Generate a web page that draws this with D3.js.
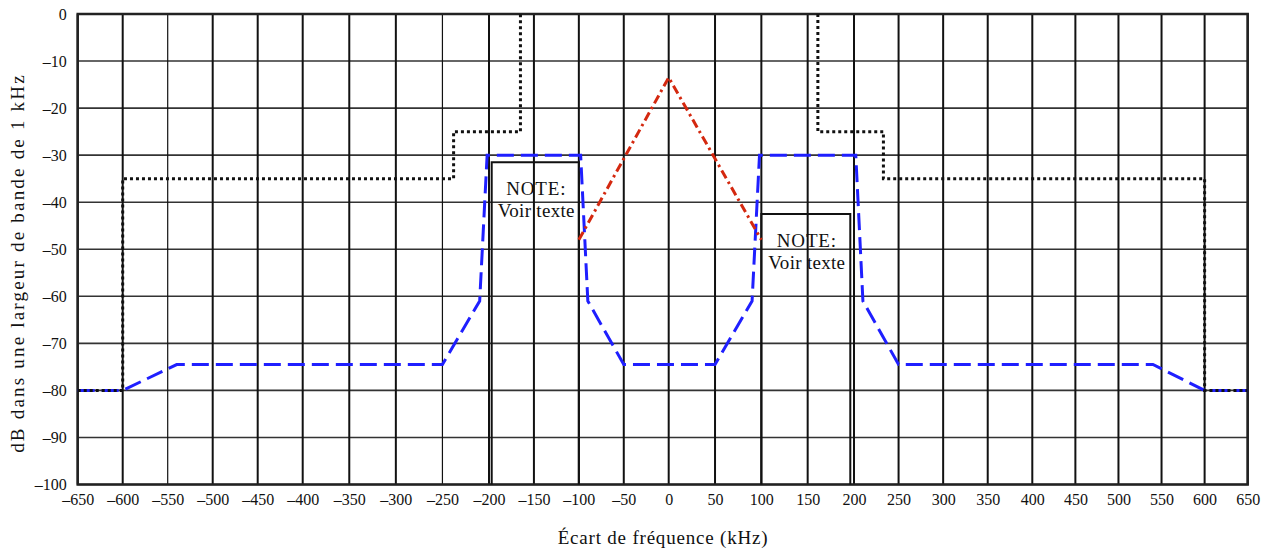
<!DOCTYPE html>
<html>
<head>
<meta charset="utf-8">
<script src="https://cdn.jsdelivr.net/npm/d3@7"></script>
<style>
  html, body { margin: 0; padding: 0; background: #fff; }
  text { font-family: "Liberation Serif", "Times New Roman", serif; fill: #111; }
</style>
</head>
<body>
<svg id="chart" width="1272" height="549"></svg>
<script>
// ---- Data ----
const xTicks = [-650,-600,-550,-500,-450,-400,-350,-300,-250,-200,-150,-100,-50,0,50,100,150,200,250,300,350,400,450,500,550,600,650];
const yTicks = [0,-10,-20,-30,-40,-50,-60,-70,-80,-90,-100];

// Blue dashed mask
const blueFreq = [-650,-600,-540,-250,-210,-202,-98,-90,-50,50,90,98,202,210,250,540,600,650];
const blueDb   = [-80,-80,-74.5,-74.5,-61,-30,-30,-61,-74.5,-74.5,-61,-30,-30,-61,-74.5,-74.5,-80,-80];

// Black dotted mask (left and right parts)
const maskLeftFreq  = [-650,-600,-600,-238,-238,-165,-165];
const maskLeftDb    = [-80,-80,-35,-35,-25,-25,0];
const maskRightFreq = [161,161,233,233,600,600,650];
const maskRightDb   = [0,-25,-25,-35,-35,-80,-80];

// Red dash-dot line
const redFreq = [-100, 0, 100];
const redDb   = [-48, -13.5, -48];

// NOTE boxes
const boxLeftFreq  = [-197, 100];
const boxRightFreq = [-100, 196];
const boxTopDb     = [-31.5, -42.5];
const noteLine1 = "NOTE:";
const noteLine2 = "Voir texte";

const xTitle = "Écart de fréquence (kHz)";
const yTitle = "dB dans une largeur de bande de 1 kHz";

// ---- Layout ----
const W = 1272, H = 549;
const svg = d3.select("#chart");
// piecewise-linear frequency axis, as in the reference drawing
const x = d3.scaleLinear()
  .domain([-650, -400, -200, 0, 200, 400, 650])
  .range([77.7, 302.7, 489, 668.7, 854, 1032.3, 1247.7]);
const y = d3.scaleLinear().domain([-100, 0]).range([484.5, 14]);
const fmt = d => d < 0 ? "–" + Math.abs(d) : String(d);
const thinX = new Set([-550, -250]);

// Grid
const g = svg.append("g");
g.selectAll("line.h").data(yTicks).join("line")
  .attr("x1", x(-650)).attr("x2", x(650))
  .attr("y1", d => y(d)).attr("y2", d => y(d))
  .attr("stroke", "#333").attr("stroke-width", 1.6);
g.selectAll("line.v").data(xTicks).join("line")
  .attr("x1", d => x(d)).attr("x2", d => x(d))
  .attr("y1", y(0)).attr("y2", y(-100))
  .attr("stroke", "#111").attr("stroke-width", d => thinX.has(d) ? 1.2 : 2);

// Frame
svg.append("rect")
  .attr("x", x(-650)).attr("y", y(0))
  .attr("width", x(650) - x(-650)).attr("height", y(-100) - y(0))
  .attr("fill", "none").attr("stroke", "#222").attr("stroke-width", 2.5);

// Axes (labels only)
const xAxis = d3.axisBottom(x).tickValues(xTicks).tickFormat(fmt).tickSize(0).tickPadding(0);
const xa = svg.append("g").attr("transform", `translate(0,${y(-100)})`).call(xAxis);
xa.select(".domain").remove();
xa.selectAll("text").attr("dy", null).attr("y", 20)
  .style("font-family", "Liberation Serif, serif").style("font-size", "16px").attr("fill", "#111");

const yAxis = d3.axisLeft(y).tickValues(yTicks).tickFormat(fmt).tickSize(0).tickPadding(0);
const ya = svg.append("g").attr("transform", `translate(${x(-650)},0)`).call(yAxis);
ya.select(".domain").remove();
ya.selectAll("text").attr("x", -11)
  .style("font-family", "Liberation Serif, serif").style("font-size", "16px").attr("fill", "#111");

// Titles
svg.append("text").attr("x", 663).attr("y", 544)
  .attr("text-anchor", "middle").style("font-size", "19px").style("letter-spacing", "0.8px")
  .text(xTitle);
svg.append("text").attr("transform", `translate(24,263) rotate(-90)`)
  .attr("text-anchor", "middle").style("font-size", "19px").style("letter-spacing", "2.2px")
  .text(yTitle);

// NOTE boxes
const boxes = boxTopDb.map((t, i) => ({l: boxLeftFreq[i], r: boxRightFreq[i], t}));
svg.selectAll("path.box").data(boxes).join("path")
  .attr("d", b => `M${x(b.l)},${y(-100)}V${y(b.t)}H${x(b.r)}V${y(-100)}`)
  .attr("fill", "none").attr("stroke", "#111").attr("stroke-width", 2);
boxes.forEach(b => {
  const cx = (x(b.l) + x(b.r)) / 2 + 1;
  svg.append("text").attr("x", cx).attr("y", y(b.t) + 33)
    .attr("text-anchor", "middle").style("font-size", "19px").style("letter-spacing", "0.8px").text(noteLine1);
  svg.append("text").attr("x", cx).attr("y", y(b.t) + 55)
    .attr("text-anchor", "middle").style("font-size", "19px").style("letter-spacing", "0.3px").text(noteLine2);
});

const line = d3.line().x(d => x(d[0])).y(d => y(d[1]));

// Blue dashed
svg.append("path").datum(d3.zip(blueFreq, blueDb))
  .attr("d", line).attr("fill", "none")
  .attr("stroke", "#1f1fff").attr("stroke-width", 3)
  .attr("stroke-dasharray", "17,7");

// Black dotted
[[maskLeftFreq, maskLeftDb], [maskRightFreq, maskRightDb]].forEach(([f, d]) => {
  svg.append("path").datum(d3.zip(f, d))
    .attr("d", line).attr("fill", "none")
    .attr("stroke", "#111").attr("stroke-width", 3)
    .attr("stroke-dasharray", "3,3");
});

// Red dash-dot
svg.append("path").datum(d3.zip(redFreq, redDb))
  .attr("d", line).attr("fill", "none")
  .attr("stroke", "#d4280f").attr("stroke-width", 3)
  .attr("stroke-dasharray", "9,4,2.5,4");
</script>
</body>
</html>
